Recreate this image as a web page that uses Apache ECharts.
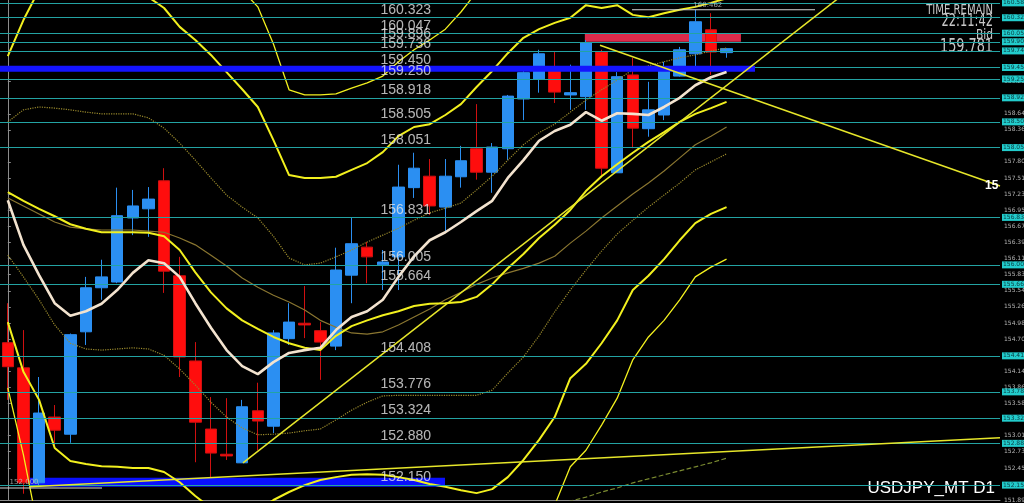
<!DOCTYPE html>
<html><head><meta charset="utf-8">
<script src="https://cdn.jsdelivr.net/npm/echarts@6/dist/echarts.min.js"></script>
<style>html,body{margin:0;padding:0;background:#000;}#c{width:1024px;height:503px;}</style>
</head><body><div id="c"></div>
<script>
// ---------- data ----------
const slotCount = 64;
const categories = Array.from({length: slotCount}, (_, i) => 'D' + (i + 1));
// [open, close, low, high]
const candles = [
[154.64,154.22,153.64,155.33],[154.20,152.19,152.00,154.86],[152.19,153.41,152.15,154.04],[153.34,153.11,152.85,153.55],
[153.04,154.78,152.89,154.80],[154.83,155.60,154.60,155.79],[155.60,155.79,155.39,156.09],[155.70,156.86,155.68,157.35],
[156.82,157.03,156.52,157.31],[156.98,157.15,156.49,157.36],[157.47,155.89,155.51,157.69],[155.81,154.39,154.04,156.14],
[154.32,153.25,152.55,154.65],[153.13,152.71,152.28,153.69],[152.69,152.66,152.59,153.67],[152.54,153.52,152.54,153.64],
[153.45,153.27,152.76,153.94],[153.18,154.81,153.06,154.86],[154.71,155.00,154.60,155.33],[154.98,154.95,154.72,155.63],
[154.85,154.65,153.99,155.00],[154.58,155.91,154.51,156.30],[155.82,156.37,155.33,156.82],[156.31,156.14,155.68,156.40],
[156.00,156.05,155.56,156.26],[156.14,157.36,155.56,157.75],[157.35,157.69,157.17,157.96],[157.55,157.03,156.87,157.85],
[157.01,157.55,156.56,157.85],[157.54,157.82,157.35,158.08],[158.03,157.62,157.49,158.81],[157.62,158.06,157.26,158.13],
[158.03,158.95,157.83,158.97],[158.90,159.36,158.53,159.44],[159.25,159.69,159.01,159.76],[159.46,159.02,158.83,159.72],
[158.97,159.01,158.71,159.50],[158.94,159.88,158.71,159.93],[159.72,157.69,157.57,159.76],[157.61,159.29,157.61,159.37],
[159.32,158.39,158.04,159.62],[158.38,158.71,158.24,159.20],[158.62,159.46,158.53,159.55],[159.30,159.76,159.29,159.81],
[159.69,160.25,159.44,160.46],[160.11,159.72,159.32,160.40],[159.71,159.78,159.62,159.79]
];
const maFast = [157.13,156.35,155.82,155.33,155.11,155.19,155.32,155.56,155.86,156.08,156.03,155.79,155.33,154.90,154.51,154.23,154.09,154.30,154.46,154.51,154.55,154.86,155.09,155.19,155.39,155.79,156.15,156.43,156.57,156.75,156.94,157.12,157.52,157.83,158.17,158.34,158.45,158.67,158.52,158.65,158.64,158.62,158.76,158.92,159.14,159.28,159.37];
const bbMid = [157.27,157.12,156.98,156.85,156.71,156.63,156.57,156.57,156.57,156.56,156.50,156.26,155.87,155.52,155.24,155.03,154.88,154.74,154.63,154.55,154.51,154.76,154.93,155.03,155.12,155.19,155.28,155.32,155.33,155.35,155.44,155.66,155.94,156.19,156.47,156.70,156.96,157.29,157.55,157.76,157.96,158.15,158.32,158.50,158.64,158.74,158.85];
const maSlow = [157.17,157.03,156.89,156.75,156.66,156.63,156.61,156.61,156.61,156.59,156.57,156.47,156.35,156.17,155.98,155.77,155.61,155.47,155.35,155.21,155.03,154.91,154.81,154.79,154.83,154.95,155.09,155.23,155.39,155.52,155.66,155.77,155.86,155.94,156.03,156.15,156.38,156.59,156.82,157.03,157.24,157.43,157.64,157.87,158.10,158.25,158.41];
const bbUp1 = [158.50,158.71,158.76,158.74,158.71,158.67,158.64,158.64,158.64,158.57,158.39,158.13,157.83,157.52,157.22,157.01,156.82,156.50,156.12,156.00,156.03,156.14,156.26,156.40,156.52,156.64,156.78,156.91,156.99,157.08,157.31,157.55,157.83,158.10,158.31,158.46,158.67,158.88,159.06,159.23,159.41,159.48,159.55,159.62,159.67,159.74,159.79];
const bbLow1 = [156.17,155.79,155.39,154.95,154.63,154.53,154.51,154.53,154.55,154.53,154.42,154.18,153.90,153.60,153.34,153.15,153.03,153.04,153.06,153.10,153.13,153.29,153.46,153.60,153.71,153.72,153.72,153.72,153.72,153.72,153.72,153.81,154.11,154.39,154.76,155.18,155.56,155.91,156.24,156.54,156.78,157.01,157.22,157.43,157.66,157.80,157.94];
const bbUp2 = [159.65,160.28,160.81,161.15,161.42,161.59,161.59,161.50,161.24,160.68,160.49,160.16,159.93,159.67,159.37,159.07,158.76,158.18,157.57,157.52,157.52,157.54,157.66,157.78,157.97,158.25,158.41,158.46,158.62,158.81,159.11,159.39,159.70,159.97,160.12,160.23,160.32,160.54,160.49,160.54,160.37,160.33,160.40,160.46,160.51,160.58,160.66];
const bbUp3 = [161.80,162.00,162.20,162.40,162.60,162.70,162.70,162.60,162.40,162.20,161.90,161.60,161.30,161.10,160.95,160.80,160.51,159.86,159.06,158.97,158.97,158.99,159.09,159.18,159.30,159.55,159.76,159.93,160.12,160.42,160.77,161.00,161.30,161.60,161.80,161.90,162.00,162.10,162.10,162.10,162.00,161.90,161.90,161.90,161.90,161.90,161.90];
const bbLow2 = [155.00,154.13,153.64,152.80,152.57,152.52,152.48,152.47,152.45,152.45,152.38,152.20,151.96,151.75,151.63,151.63,151.71,151.89,152.03,152.15,152.24,152.29,152.33,152.34,152.33,152.29,152.24,152.17,152.12,152.06,152.01,152.08,152.29,152.59,152.94,153.34,154.02,154.27,154.63,155.03,155.56,155.81,156.10,156.43,156.73,156.89,157.01];
const bbLow3 = [153.85,152.68,151.30,151.00,150.90,150.90,150.90,150.90,150.90,150.90,150.80,150.60,150.40,150.20,150.10,150.10,150.20,150.30,150.40,150.50,150.60,150.60,150.60,150.60,150.60,150.60,150.60,150.60,150.60,150.60,150.60,150.70,150.90,151.20,151.50,151.80,152.47,152.76,153.20,153.67,154.34,154.74,155.03,155.39,155.79,155.96,156.10];
const lowDotted = [null,null,null,null,null,null,null,null,null,null,null,null,null,null,null,null,null,null,null,null,null,null,null,null,null,null,null,null,null,null,null,null,null,null,null,151.80,151.87,151.94,152.03,152.10,152.19,152.26,152.33,152.40,152.47,152.54,152.62];
const levelLines = [160.577,160.323,160.047,159.896,159.736,159.450,159.250,158.918,158.505,158.051,156.831,156.005,155.664,154.408,153.776,153.324,152.880,152.150];
const levelTexts = [160.323,160.047,159.896,159.736,159.450,159.250,158.918,158.505,158.051,156.831,156.005,155.664,154.408,153.776,153.324,152.880,152.150];
const tickLabels = [151.890,152.450,152.735,153.015,153.580,153.860,154.140,154.700,154.985,155.265,155.545,155.830,156.110,156.390,156.675,156.955,157.235,157.515,157.800,158.360,158.640,159.205];
// trendlines: [[slot, price],[slot, price]]
const trendUp = [[15.05,152.54],[54,160.84]];
const trendDown = [[37.9,159.84],[63.5,157.38]];
const trendLong = [[1.42,152.12],[63.5,152.98]];
const blueLevel = [[-0.5,159.43],[47.82,159.43]];
const blueZone = [[1.42,152.28],[27.98,152.12]];
const redZone = [[36.93,160.05],[46.92,159.90]];
const highMark = [[39.95,160.46],[51.66,160.46]];
const lowMark = [[-0.5,152.10],[6.03,152.10]];
const highText = '160.462', lowText = '152.000';

// ---------- chart ----------
const chart = echarts.init(document.getElementById('c'));
const idx = arr => arr.map((v, i) => [i, v === null ? '-' : v]);
const YEL = '#f2f01e', OLIVE = '#9a8a2c', TEAL = '#23a3a3';
const CLEAR = 'rgba(0,0,0,0)';
function line(data, color, width, type, z) {
  return {type: 'line', xAxisIndex: 1, data: idx(data), showSymbol: false, symbol: 'none', silent: true,
    lineStyle: {color: color, width: width, type: type || 'solid'}, z: z || 4};
}
function seg(data, color, width, z, extra) {
  return Object.assign({type: 'line', xAxisIndex: 1, data: data, showSymbol: false, symbol: 'none', silent: true,
    lineStyle: {color: color, width: width}, z: z || 5}, extra || {});
}
const narrow = "'Liberation Sans Narrow','DejaVu Sans Condensed','Liberation Sans',sans-serif";
const option = {
  backgroundColor: '#000',
  animation: false,
  grid: {left: 0, right: 24, top: 0, bottom: 3, outerBoundsMode: 'none'},
  xAxis: [
    {type: 'category', data: categories, boundaryGap: true,
     axisLine: {show: true, lineStyle: {color: '#8c8c8c'}}, axisTick: {show: false}, axisLabel: {show: false}, splitLine: {show: false}},
    {type: 'value', min: -0.5, max: slotCount - 0.5, show: false}
  ],
  yAxis: {type: 'value', position: 'right', min: 151.89, max: 160.63, scale: true,
    splitLine: {show: false},
    axisLine: {show: true, lineStyle: {color: '#8c8c8c'}},
    axisTick: {show: true, length: 3, lineStyle: {color: '#8c8c8c'}, customValues: tickLabels},
    axisLabel: {show: true, color: '#b4b4b4', fontSize: 6, margin: 4, fontFamily: 'DejaVu Sans',
      customValues: tickLabels, formatter: v => Number(v).toFixed(3)}},
  series: [
    {type: 'line', xAxisIndex: 1, data: [[-5, 156]], showSymbol: false, lineStyle: {opacity: 0}, silent: true, z: 1,
     markLine: {silent: true, symbol: 'none', animation: false,
       lineStyle: {color: TEAL, width: 1, type: 'solid'},
       label: {show: true, position: 'end', distance: 2, formatter: p => Number(p.value).toFixed(3),
         backgroundColor: '#22cccc', color: '#0a3a40', fontSize: 6, padding: [1, 1, 0, 1], fontFamily: 'DejaVu Sans'},
       data: levelLines.map(v => ({yAxis: v}))},
     markArea: {silent: true, data: [
       [{coord: blueZone[0], itemStyle: {color: '#0a10ff'}}, {coord: blueZone[1]}],
       [{coord: redZone[0], itemStyle: {color: '#dc2a4a'}}, {coord: redZone[1]}]
     ]}},
    {type: 'candlestick', xAxisIndex: 0, data: candles, barWidth: 12, z: 3, silent: true,
     itemStyle: {color: '#2b8ff2', color0: '#ff0d0d', borderColor: '#2b8ff2', borderColor0: '#d01010', borderWidth: 1}},
    line(bbUp3, YEL, 1.3),
    line(bbUp2, YEL, 2),
    line(bbUp1, OLIVE, 1.2, 'dotted'),
    line(maSlow, '#8a7630', 1.2),
    line(bbMid, YEL, 2),
    line(bbLow1, OLIVE, 1.2, 'dotted'),
    line(bbLow2, YEL, 2),
    line(bbLow3, YEL, 1.3),
    line(lowDotted, '#7a8a30', 1.2, 'dashed'),
    line(maFast, '#f3e3cf', 2.6, 'solid', 6),
    seg(blueLevel, '#1414ff', 6, 5),
    seg(trendUp, '#e6e62a', 1.5, 7),
    seg(trendDown, '#e6e62a', 1.5, 7, {
      endLabel: {show: true, formatter: '15', color: '#ffffff', fontWeight: 'bold', fontSize: 12, distance: -15, fontFamily: 'Liberation Sans'}}),
    seg(trendLong, '#e6e62a', 1.5, 7),
    seg(highMark, '#d8d8d8', 1.2, 7),
    seg(lowMark, '#d8d8d8', 1.2, 7),
    {type: 'scatter', xAxisIndex: 1, symbolSize: 1, itemStyle: {color: CLEAR}, silent: true, z: 9,
     data: [[44.8, 160.46]],
     label: {show: true, position: 'top', distance: 1, formatter: highText, color: '#c0c0c0', fontSize: 7, fontFamily: 'DejaVu Sans'}},
    {type: 'scatter', xAxisIndex: 1, symbolSize: 1, itemStyle: {color: CLEAR}, silent: true, z: 9,
     data: [[1.04, 152.10]],
     label: {show: true, position: 'top', distance: 2, formatter: lowText, color: '#c0c0c0', fontSize: 7, fontFamily: 'DejaVu Sans'}},
    {type: 'scatter', xAxisIndex: 1, symbolSize: 1, itemStyle: {color: CLEAR}, silent: true, z: 9,
     data: levelTexts.map(v => [23.88, v]),
     label: {show: true, position: [0, 0], align: 'left', verticalAlign: 'bottom',
       formatter: p => p.value[1].toFixed(3), color: '#e4e4e4', fontSize: 14, fontFamily: 'Liberation Sans'}}
  ],
  graphic: [
    {type: 'text', x: 993, y: 3, scaleX: 0.8, style: {text: 'TIME REMAIN', fill: '#c8c8c8', font: '14px ' + narrow, textAlign: 'right', textVerticalAlign: 'top'}},
    {type: 'text', x: 993, y: 13, scaleX: 0.75, style: {text: '22:11:42', fill: '#c8c8c8', font: '17px ' + narrow, textAlign: 'right', textVerticalAlign: 'top'}},
    {type: 'text', x: 993, y: 28, scaleX: 0.85, style: {text: 'Bid', fill: '#c8c8c8', font: '14px ' + narrow, textAlign: 'right', textVerticalAlign: 'top'}},
    {type: 'text', x: 993, y: 38, scaleX: 0.75, style: {text: '159.781', fill: '#c8c8c8', font: '19px ' + narrow, textAlign: 'right', textVerticalAlign: 'top'}},
    {type: 'text', x: 995, y: 480, style: {text: 'USDJPY_MT D1', fill: '#ffffff', font: '17px Liberation Sans', textAlign: 'right', textVerticalAlign: 'top'}}
  ]
};
chart.setOption(option);
</script></body></html>
